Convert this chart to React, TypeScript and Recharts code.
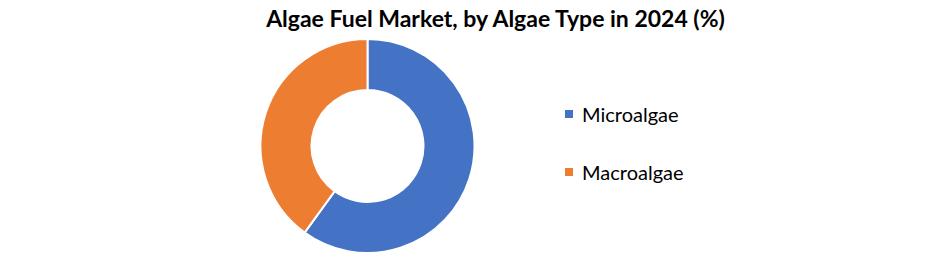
import React from "react";
import { PieChart, Pie, Cell, Legend } from "recharts";

const categories = ["Microalgae", "Macroalgae"];
const shares = [60, 40];
const colors = ["#4472C4", "#ED7D31"];
const title = "Algae Fuel Market, by Algae Type in 2024 (%)";

const data = categories.map((name, i) => ({ name, value: shares[i] }));

const renderLegend = () => (
  <div style={{ fontFamily: "Lato, 'Open Sans', sans-serif", fontSize: 20, color: "#000" }}>
    {categories.map((name, i) => (
      <div
        key={name}
        style={{ display: "flex", alignItems: "center", height: 24, marginBottom: i === 0 ? 34 : 0 }}
      >
        <span
          style={{ display: "inline-block", width: 8, height: 8, background: colors[i], marginRight: 9 }}
        />
        <span>{name}</span>
      </div>
    ))}
  </div>
);

export default function App() {
  return (
    <div style={{ position: "absolute", left: 0, top: 0, width: 936, height: 257, background: "#fff" }}>
      <div
        style={{
          position: "absolute",
          left: 0,
          top: 2,
          width: 991,
          textAlign: "center",
          fontFamily: "Lato, 'Open Sans', sans-serif",
          fontWeight: 700,
          fontSize: 23,
          color: "#000",
          lineHeight: "32px",
          zIndex: 2,
        }}
      >
        {title}
      </div>
      <PieChart width={936} height={257} margin={{ top: 0, right: 0, bottom: 0, left: 0 }}>
        <Pie
          data={data}
          dataKey="value"
          nameKey="name"
          cx={367.5}
          cy={146}
          innerRadius={56}
          outerRadius={107}
          startAngle={90}
          endAngle={-270}
          stroke="#fff"
          strokeWidth={2}
          isAnimationActive={false}
        >
          {data.map((d, i) => (
            <Cell key={d.name} fill={colors[i]} />
          ))}
        </Pie>
        <Legend
          content={renderLegend}
          layout="vertical"
          wrapperStyle={{ position: "absolute", left: 565, top: 102, width: 200 }}
        />
      </PieChart>
    </div>
  );
}
